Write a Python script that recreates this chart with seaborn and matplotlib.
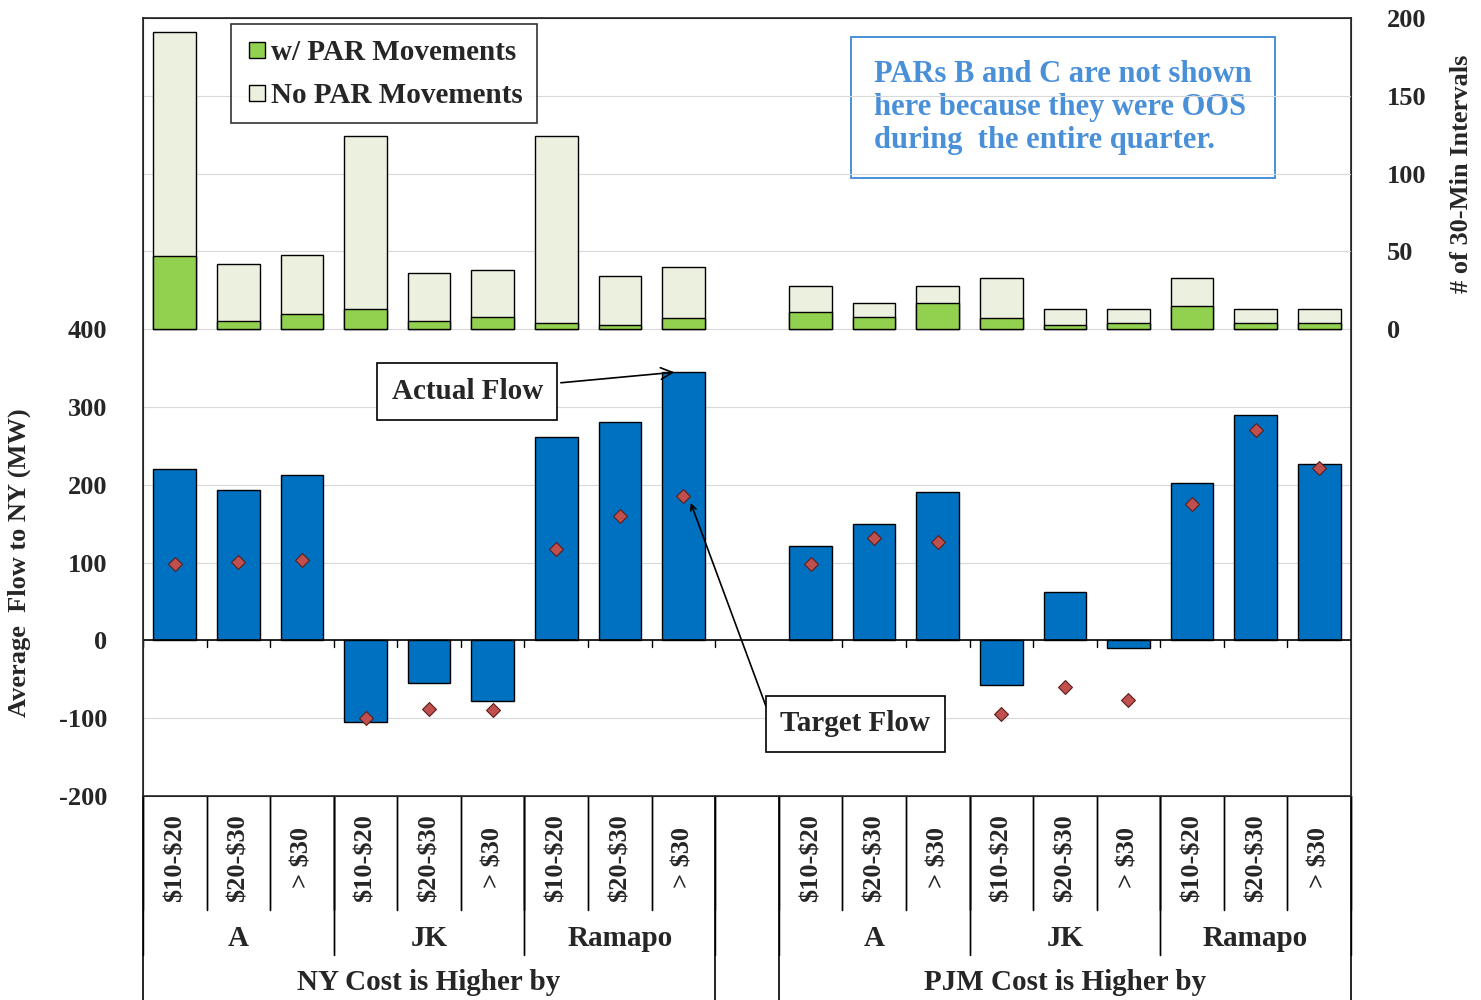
import numpy as np
import pandas as pd
import matplotlib.pyplot as plt
import seaborn as sns
from matplotlib.lines import Line2D

sns.set_style("white")
plt.rcParams['font.family'] = ['Liberation Serif', 'DejaVu Serif']
plt.rcParams['font.weight'] = 'bold'
plt.rcParams['axes.unicode_minus'] = False

positions = [0, 1, 2, 3, 4, 5, 6, 7, 8, 10, 11, 12, 13, 14, 15, 16, 17, 18]
tick_labels = [r'\$10-\$20', r'\$20-\$30', r'> \$30'] * 6
pars = ['A', 'JK', 'Ramapo', 'A', 'JK', 'Ramapo']
sides = ['NY Cost is Higher by', 'PJM Cost is Higher by']
actual_flow = [220, 193, 213, -105, -55, -78, 262, 281, 345,
               121, 149, 191, -57, 62, -10, 202, 290, 227]
target_flow = [98, 101, 103, -100, -88, -89, 118, 160, 185,
               98, 132, 126, -95, -60, -77, 175, 270, 222]
total_intervals = [191, 42, 48, 124, 36, 38, 124, 34, 40,
                   28, 17, 28, 33, 13, 13, 33, 13, 13]
par_move_intervals = [47, 5, 10, 13, 5, 8, 4, 3, 7,
                      11, 8, 17, 7, 3, 4, 15, 4, 4]

df = pd.DataFrame({'x': positions, 'flow': actual_flow, 'target': target_flow,
                   'total': total_intervals, 'moved': par_move_intervals})

fig = plt.figure(figsize=(14.81, 10), dpi=100)
ax = fig.add_axes([143 / 1481, 1 - 796 / 1000, 1208 / 1481, 778 / 1000])
ax2 = ax.twinx()

# flows
sns.barplot(data=df, x='x', y='flow', native_scale=True, width=0.67,
            color='#0070C0', edgecolor='black', linewidth=1, saturation=1, ax=ax)
ax.scatter(df['x'], df['target'], marker='D', s=50, color='#C0504D',
           edgecolor='#5a1f1d', linewidth=0.8, zorder=5)

# interval counts
sns.barplot(data=df, x='x', y='total', native_scale=True, width=0.67,
            color='#EBF1DE', edgecolor='black', linewidth=1, saturation=1, ax=ax2)
sns.barplot(data=df, x='x', y='moved', native_scale=True, width=0.67,
            color='#92D050', edgecolor='black', linewidth=1, saturation=1, ax=ax2)

ax.set_xlim(-0.5, 18.5)
ax.set_ylim(-200, 800)
ax.set_yticks(range(-200, 401, 100))
ax2.set_ylim(-300, 200)
ax2.set_yticks(range(0, 201, 50))
for a in (ax, ax2):
    a.set_xlabel('')
    a.set_ylabel('')
ax.tick_params(axis='y', labelsize=19, length=0, pad=26)
ax2.tick_params(axis='y', labelsize=19, length=0, pad=26)
ax.set_xticks([])
for y in range(-100, 401, 100):
    ax.axhline(y, color='#d9d9d9', lw=0.8, zorder=0)
for y in (50, 100, 150):
    ax2.axhline(y, color='#d9d9d9', lw=0.8, zorder=0)
ax.axhline(0, color='black', lw=1.2, zorder=3)
for b in np.arange(-0.5, 19, 1):
    if b == 9.5:
        continue
    ax.plot([b, b], [0, -8], color='black', lw=1, zorder=3)
for s in ax.spines.values():
    s.set_linewidth(1.2)

ax.set_ylabel('Average  Flow to NY (MW)', fontsize=19, fontweight='bold')
ax.yaxis.set_label_coords(-0.093, 0.30)
ax2.set_ylabel('# of 30-Min Intervals', fontsize=19, fontweight='bold', rotation=90)
ax2.yaxis.set_label_coords(1.082, 0.80)

# category rows under the axes
tr = ax.get_xaxis_transform()
def ypos(px):
    return (796 - px) / 778.0
for i, p in enumerate(positions):
    ax.text(p, ypos(858), tick_labels[i], rotation=90, ha='center', va='center',
            fontsize=19, transform=tr, clip_on=False)
    for b in (p - 0.5, p + 0.5):
        ax.plot([b, b], [0, ypos(910)], color='black', lw=1, transform=tr, clip_on=False)
for g in range(6):
    c = positions[g * 3 + 1]
    ax.text(c, ypos(938), pars[g], ha='center', va='center', fontsize=21,
            transform=tr, clip_on=False)
    for b in (c - 1.5, c + 1.5):
        ax.plot([b, b], [0, ypos(955)], color='black', lw=1, transform=tr, clip_on=False)
for k, c in enumerate((4, 14)):
    ax.text(c, ypos(983), sides[k], ha='center', va='center', fontsize=21,
            transform=tr, clip_on=False)
for b in (-0.5, 8.5, 9.5, 18.5):
    ax.plot([b, b], [0, ypos(1000)], color='black', lw=1.2, transform=tr, clip_on=False)

# legend
handles = [Line2D([], [], marker='s', ls='', markersize=12, markerfacecolor='#92D050',
                  markeredgecolor='black', label='w/ PAR Movements'),
           Line2D([], [], marker='s', ls='', markersize=12, markerfacecolor='#EBF1DE',
                  markeredgecolor='black', label='No PAR Movements')]
leg = ax2.legend(handles=handles, loc='upper left', bbox_to_anchor=(0.073, 0.992),
                 fontsize=21, frameon=True, fancybox=False, edgecolor='black',
                 handletextpad=0.05, labelspacing=0.55, borderpad=0.5, borderaxespad=0,
                 handlelength=0.8)
leg.get_frame().set_linewidth(1.2)

ax.text(0.605, 0.885, 'PARs B and C are not shown\nhere because they were OOS\nduring  the entire quarter.',
        transform=ax.transAxes, fontsize=22, color='#4a90d9', va='center', ha='left',
        linespacing=1.2,
        bbox=dict(boxstyle='square,pad=0.75', fc='white', ec='#4a90d9', lw=1.4))

ax.annotate('Actual Flow', xy=(7.9, 345), xytext=(4.6, 320),
            fontsize=21, ha='center', va='center',
            bbox=dict(boxstyle='square,pad=0.5', fc='white', ec='black', lw=1.2),
            arrowprops=dict(arrowstyle='->', color='black', lw=1.2))
ax.annotate('', xy=(8.1, 180), xytext=(9.3, -85),
            arrowprops=dict(arrowstyle='->', color='black', lw=1.2, shrinkA=0))
ax.text(10.7, -107, 'Target Flow', fontsize=21, ha='center', va='center', zorder=6,
        bbox=dict(boxstyle='square,pad=0.5', fc='white', ec='black', lw=1.2))

fig.savefig('out.png', dpi=100)
